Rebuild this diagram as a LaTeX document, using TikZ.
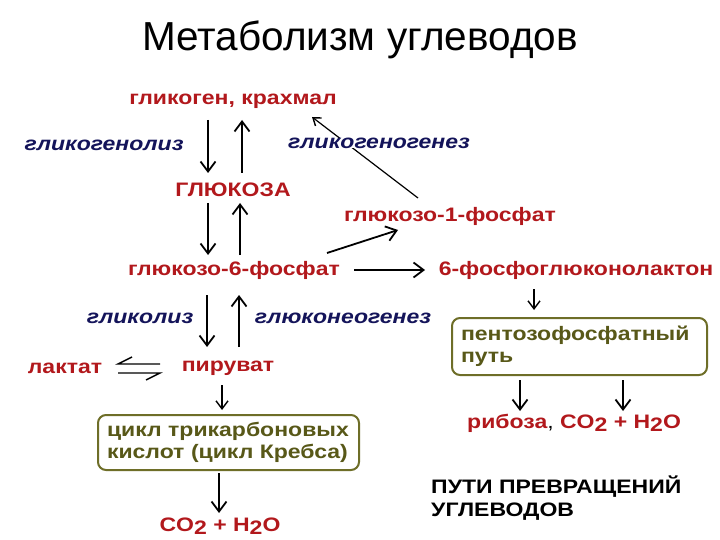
\documentclass[tikz,border=0pt]{standalone}
\usepackage{fontspec}
\setmainfont{Liberation Sans}[FakeStretch=1.18]
\newfontfamily\titlefont{Liberation Sans}
\usetikzlibrary{arrows.meta}
\definecolor{rd}{RGB}{178,24,28}
\definecolor{nv}{RGB}{20,20,90}
\definecolor{olt}{RGB}{88,88,24}
\definecolor{olb}{RGB}{110,110,40}
\newcommand{\subtwo}{\raisebox{-3pt}{2}}
\begin{document}
\begin{tikzpicture}[x=1pt,y=-1pt,
  lbl/.style={font=\fontsize{19.5}{22}\selectfont\bfseries, text=rd, inner sep=1pt},
  proc/.style={font=\fontsize{19.5}{22}\selectfont\bfseries\itshape, text=nv, inner sep=1pt},
  arr/.style={line width=1.8pt, -{Straight Barb[length=10pt,width=15pt,line width=1.8pt]}},
  thin/.style={line width=1.4pt, -{Straight Barb[length=8pt,width=12pt,line width=1.4pt]}},
  boxed/.style={draw=olb, line width=2pt, rounded corners=8pt, text=olt,
     font=\fontsize{19.5}{22}\selectfont\bfseries, align=left, inner sep=0pt}]
\useasboundingbox (0,0) rectangle (720,540);
\fill[white] (0,0) rectangle (720,540);

\node[font=\titlefont\fontsize{40.5}{42}\selectfont] (title) at (360,40) {Метаболизм углеводов};

\node[lbl] (glyc) at (233,101) {гликоген, крахмал};
\node[proc] (glys) at (104,145) {гликогенолиз};
\node[lbl] (gluc) at (233,190) {ГЛЮКОЗА};
\node[lbl] (g6p) at (234,270) {глюкозо-6-фосфат};
\node[lbl] (g1p) at (450,216) {глюкозо-1-фосфат};
\node[lbl] (pgl) at (576,270) {6-фосфоглюконолактон};
\node[proc] (glycol) at (140,318) {гликолиз};
\node[proc] (gneo) at (343,318) {глюконеогенез};
\node[lbl] (lact) at (65,368) {лактат};
\node[lbl] (pyr) at (228,368) {пируват};
\node[lbl] (co2a) at (220,526) {CO\subtwo{} + H\subtwo O};
\node[lbl, anchor=west] (rib) at (466,423) {рибоза{\color{black}\mdseries,} CO\subtwo{} + H\subtwo O};
\node[font=\fontsize{19.5}{23}\selectfont\bfseries, align=left, anchor=west, inner sep=0pt] (ways) at (431,498) {ПУТИ ПРЕВРАЩЕНИЙ\\УГЛЕВОДОВ};

\node[boxed, minimum width=255pt, minimum height=57pt, text width=237pt] (ppp) at (579.5,346.5) {пентозофосфатный\\путь};
\node[boxed, minimum width=261pt, minimum height=55pt, text width=243pt] (krebs) at (228.5,442.5) {цикл трикарбоновых\\кислот (цикл Кребса)};

% vertical arrows
\coordinate (a1s) at (208,120); \coordinate (a1e) at (208,173);
\coordinate (a2s) at (242,173); \coordinate (a2e) at (242,120);
\coordinate (a3s) at (208,203); \coordinate (a3e) at (208,255);
\coordinate (a4s) at (240,255); \coordinate (a4e) at (240,203);
\coordinate (a5s) at (207,295); \coordinate (a5e) at (207,347);
\coordinate (a6s) at (239,347); \coordinate (a6e) at (239,295);
\coordinate (a7s) at (222,385); \coordinate (a7e) at (222,410);
\coordinate (a8s) at (219,473); \coordinate (a8e) at (219,513);
\coordinate (a9s) at (534,289); \coordinate (a9e) at (534,310);
\coordinate (b1s) at (520,380); \coordinate (b1e) at (520,411);
\coordinate (b2s) at (623,380); \coordinate (b2e) at (623,411);
\draw[arr] (a1s) -- (a1e);
\draw[arr] (a2s) -- (a2e);
\draw[arr] (a3s) -- (a3e);
\draw[arr] (a4s) -- (a4e);
\draw[arr] (a5s) -- (a5e);
\draw[arr] (a6s) -- (a6e);
\draw[thin] (a7s) -- (a7e);
\draw[arr] (a8s) -- (a8e);
\draw[thin] (a9s) -- (a9e);
\draw[arr] (b1s) -- (b1e);
\draw[arr] (b2s) -- (b2e);

% diagonal and horizontal arrows
\coordinate (c1s) at (418,198); \coordinate (c1e) at (312,117);
\draw[line width=1.2pt, -{Straight Barb[length=7pt,width=10pt,line width=1.4pt]}] (c1s) -- (c1e);
\coordinate (c2s) at (327,253); \coordinate (c2e) at (398,230);
\draw[arr] (c2s) -- (c2e);
\coordinate (c3s) at (354,270); \coordinate (c3e) at (425,270);
\draw[arr] (c3s) -- (c3e);

% redraw label over diagonal line
\node[proc, fill=white, inner sep=0pt] (glgen) at (379,143) {гликогеногенез};

% equilibrium harpoons
\coordinate (h1l) at (118,364); \coordinate (h1r) at (160,364); \coordinate (h1b) at (132,357);
\coordinate (h2l) at (118,373); \coordinate (h2r) at (160,373); \coordinate (h2b) at (146,380);
\draw[line width=1.4pt] (h1r) -- (h1l) -- (h1b);
\draw[line width=1.4pt] (h2l) -- (h2r) -- (h2b);
\end{tikzpicture}
\end{document}
